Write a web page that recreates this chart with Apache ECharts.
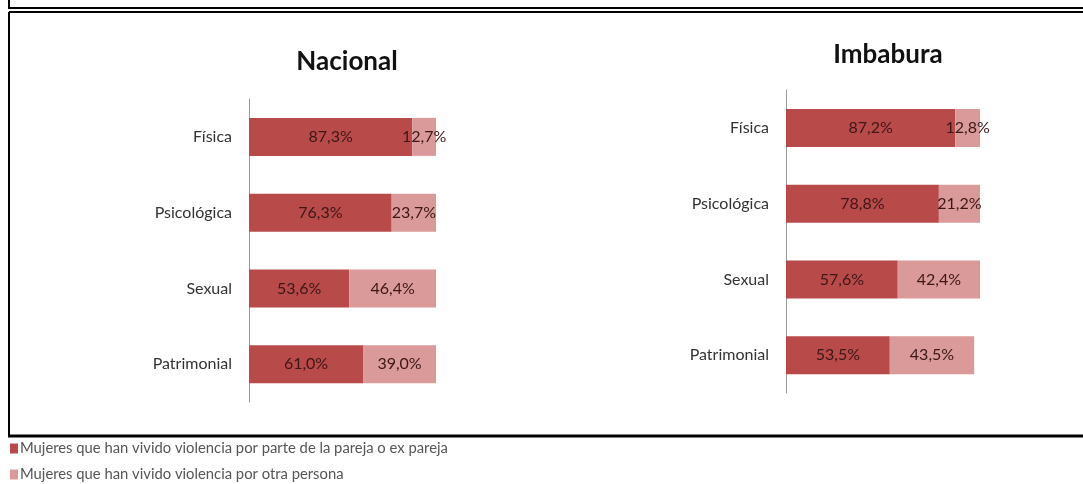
<!DOCTYPE html>
<html><head><meta charset="utf-8">
<script src="https://cdn.jsdelivr.net/npm/echarts@6/dist/echarts.min.js"></script>
<style>html,body{margin:0;padding:0;background:#fff}#c{width:1083px;height:484px}</style>
</head><body><div id="c"></div>
<script>
const categories = ['Física','Psicológica','Sexual','Patrimonial'];
const nacionalPareja = [87.3, 76.3, 53.6, 61.0];
const nacionalOtra = [12.7, 23.7, 46.4, 39.0];
const imbaburaPareja = [87.2, 78.8, 57.6, 53.5];
const imbaburaOtra = [12.8, 21.2, 42.4, 43.5];
const seriesNames = ['Mujeres que han vivido violencia por parte de la pareja o ex pareja','Mujeres que han vivido violencia por otra persona'];
const titles = ['Nacional','Imbabura'];

const FONT = 'Lato, "Open Sans", sans-serif';
const DARK = '#B84A4A', LIGHT = '#D99A99';
const fmt = p => p.value.toFixed(1).replace('.', ',') + '%';
const lbl = {show:true, position:'inside', color:'#3d1616', fontSize:16, fontFamily:FONT, formatter:fmt};

const chart = echarts.init(document.getElementById('c'));
const yAx = (gi) => ({type:'category', gridIndex:gi, data:categories, inverse:true,
  axisLine:{show:true, lineStyle:{color:'#999', width:1}}, axisTick:{show:false},
  axisLabel:{color:'#333', fontSize:16, fontFamily:FONT, margin:17}});
const xAx = (gi) => ({type:'value', gridIndex:gi, min:0, max:100, show:false, splitLine:{show:false}});
const bar = (name, data, gi, color) => ({type:'bar', name, data, stack:'s'+gi, xAxisIndex:gi, yAxisIndex:gi,
  barWidth:38, itemStyle:{color}, label:lbl, emphasis:{disabled:true}});
const leg = (name, top) => ({left:10, top, itemWidth:8, itemHeight:10, icon:'rect', padding:0,
  textStyle:{color:'#555', fontSize:14.8, fontFamily:FONT, padding:[0,0,0,-3]}, data:[name], selectedMode:false});

chart.setOption({
  animation:false,
  title:[
    {text:titles[0], left:342, textAlign:'center', top:44, textStyle:{fontSize:26, fontWeight:'bold', color:'#111', fontFamily:FONT}},
    {text:titles[1], left:883, textAlign:'center', top:37, textStyle:{fontSize:26, fontWeight:'bold', color:'#111', fontFamily:FONT}}
  ],
  legend:[leg(seriesNames[0], 441), leg(seriesNames[1], 467)],
  grid:[
    {left:249, top:99, width:187, height:303},
    {left:786, top:90, width:194, height:303}
  ],
  xAxis:[xAx(0), xAx(1)],
  yAxis:[yAx(0), yAx(1)],
  series:[
    bar(seriesNames[0], nacionalPareja, 0, DARK),
    bar(seriesNames[1], nacionalOtra, 0, LIGHT),
    bar(seriesNames[0], imbaburaPareja, 1, DARK),
    bar(seriesNames[1], imbaburaOtra, 1, LIGHT)
  ],
  graphic:[
    {type:'line', shape:{x1:9, y1:0, x2:9, y2:9}, style:{stroke:'#000', lineWidth:2}},
    {type:'line', shape:{x1:9, y1:8, x2:1083, y2:8}, style:{stroke:'#000', lineWidth:2}},
    {type:'line', shape:{x1:9, y1:12, x2:1083, y2:12}, style:{stroke:'#000', lineWidth:2}},
    {type:'line', shape:{x1:9, y1:12, x2:9, y2:437}, style:{stroke:'#000', lineWidth:2}},
    {type:'line', shape:{x1:8, y1:436, x2:1083, y2:436}, style:{stroke:'#000', lineWidth:3}}
  ]
});
</script></body></html>
